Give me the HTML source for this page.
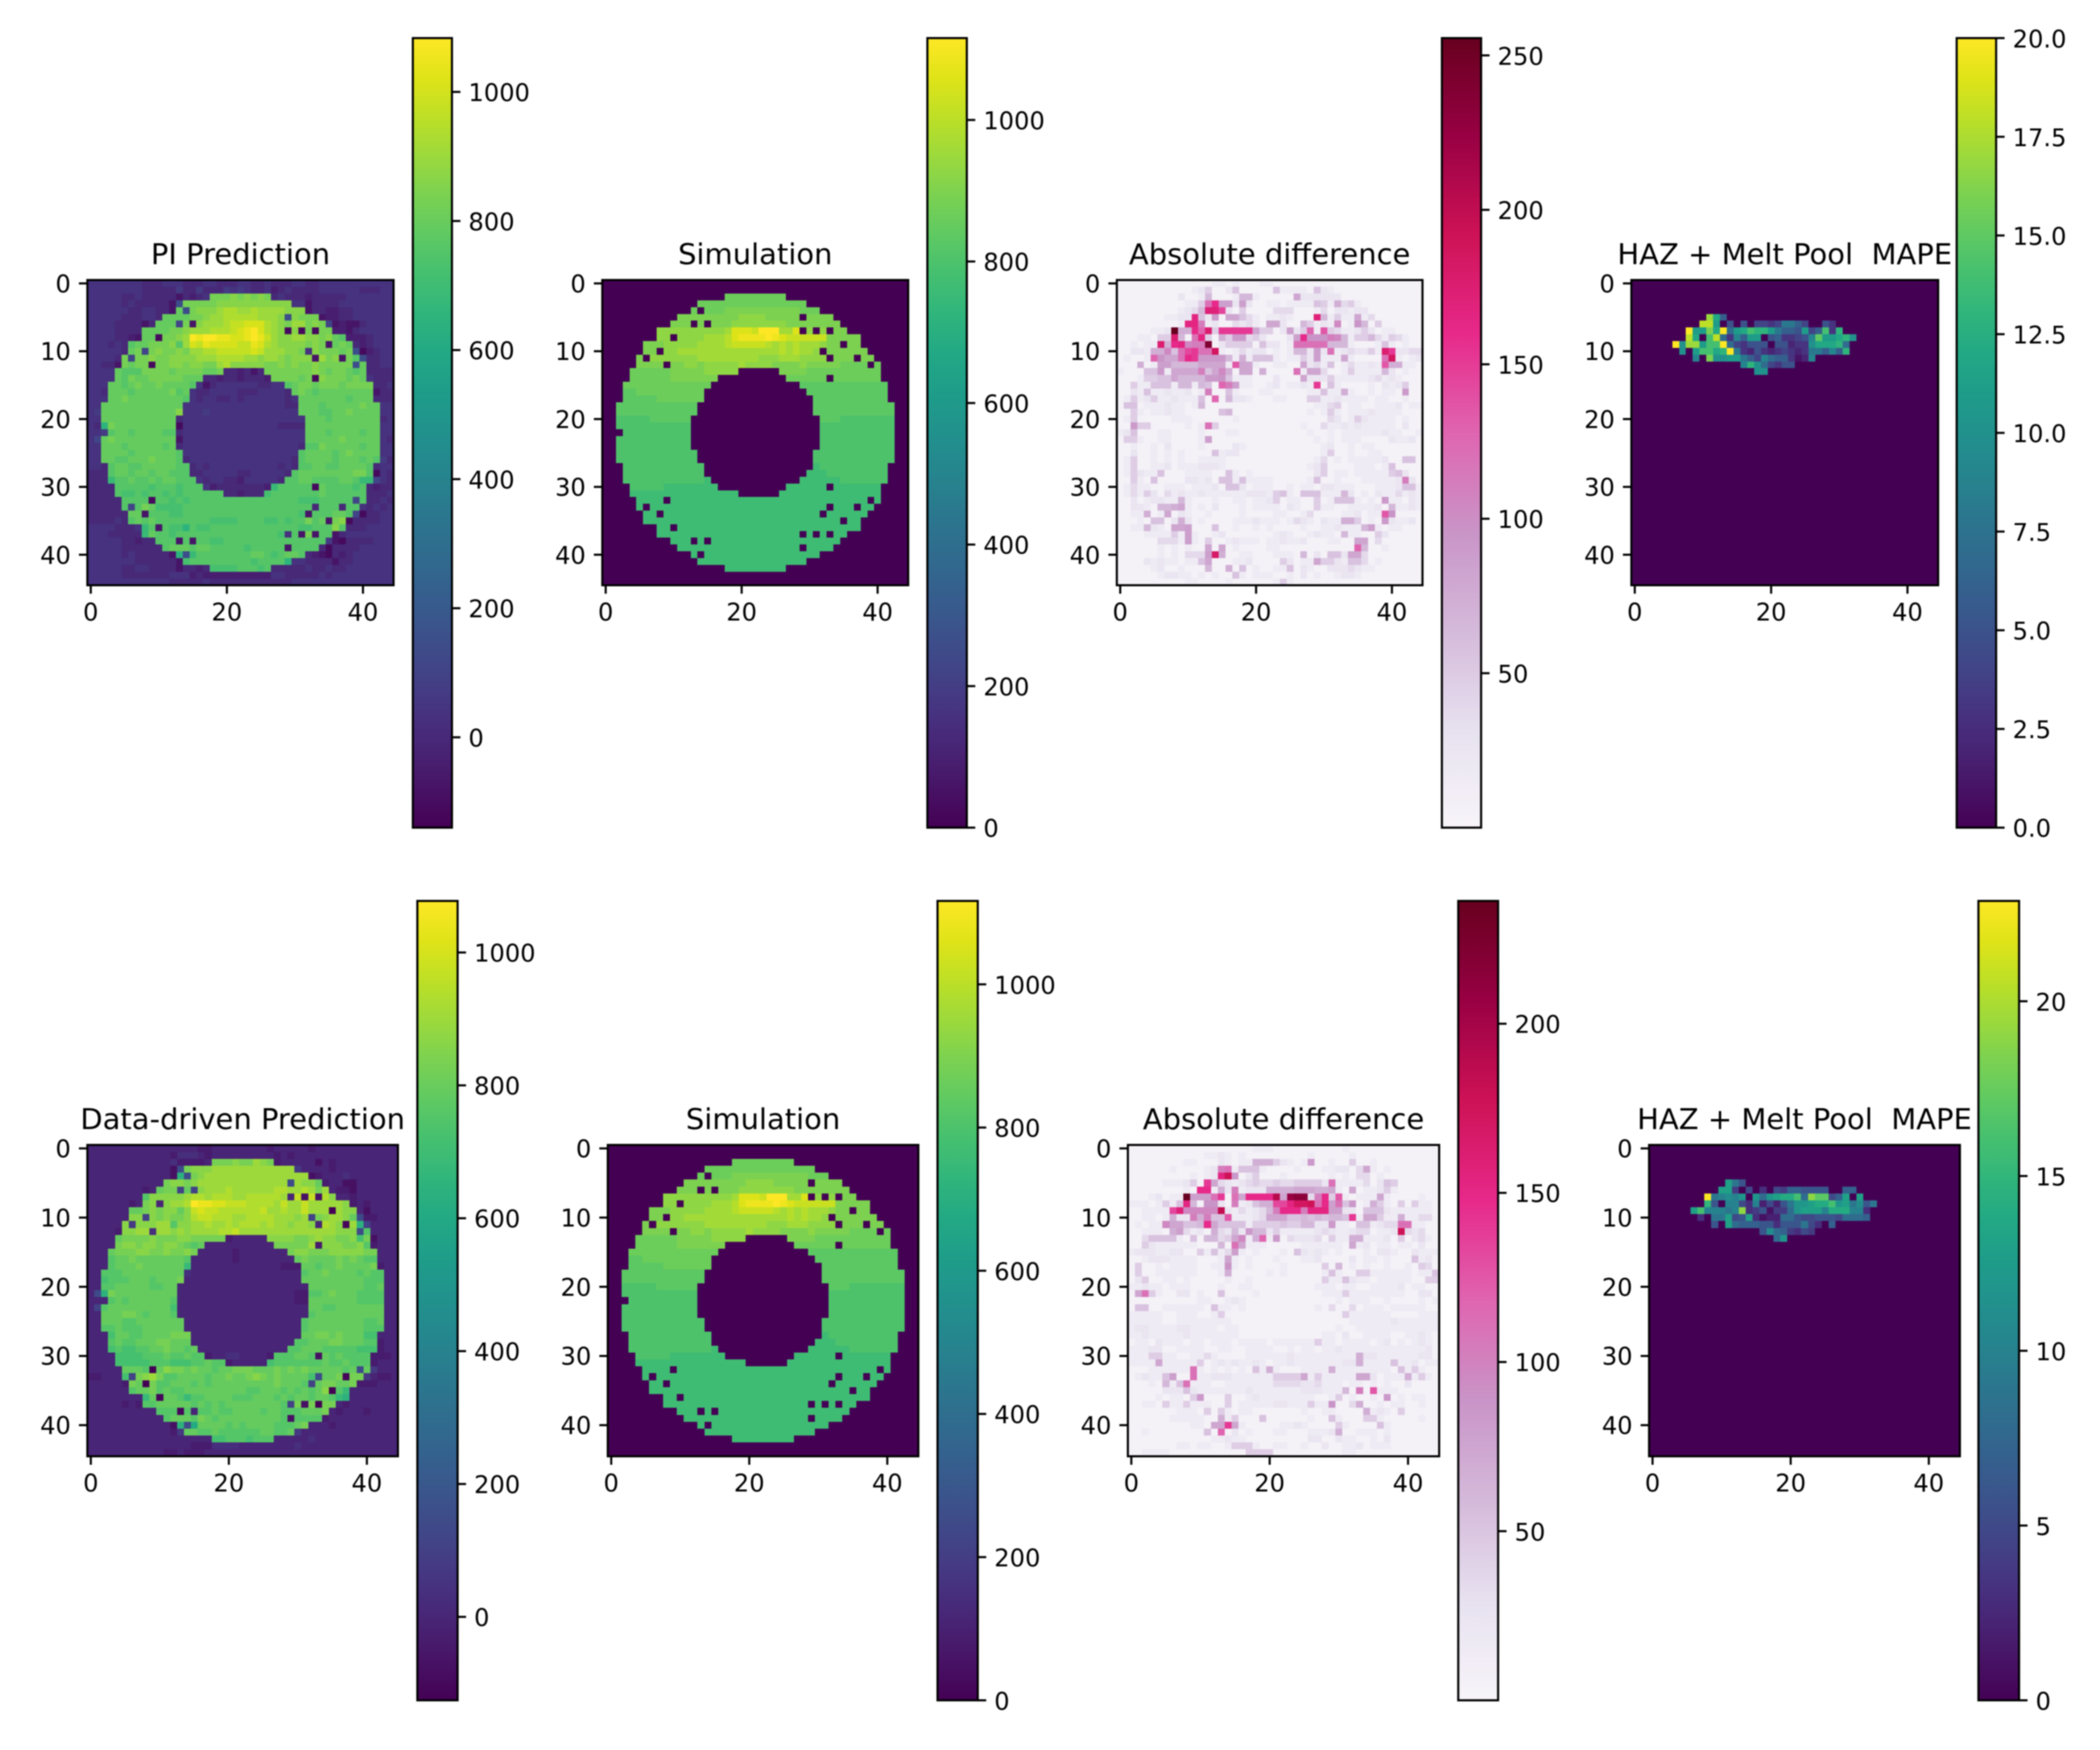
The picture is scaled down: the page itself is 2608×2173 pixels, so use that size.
<!DOCTYPE html>
<html lang="en">
<head>
<meta charset="utf-8">
<title>Temperature field prediction comparison</title>
<style>
html,body{margin:0;padding:0;background:#fff}
#figure{display:block;width:2608px;height:2173px;font-family:"DejaVu Sans","Liberation Sans",sans-serif;filter:blur(0.85px)}
text{fill:#000;white-space:pre}
</style>
</head>
<body>
<svg id="figure" xmlns="http://www.w3.org/2000/svg" width="2608" height="2173" viewBox="0 0 2608 2173" xml:space="preserve"><defs id="gradients"></defs></svg>
<script>
// ---- heatmap values: each character is a base-36 level, spaces only group the columns ----
const simulationRows = [
"00000 00000 00000 00000 00000 00000 00000 00000 00000",
"00000 00000 00000 00000 00000 00000 00000 00000 00000",
"00000 00000 00000 000rr rrrrr rr000 00000 00000 00000",
"00000 00000 0000r rrrrr rrrrr rrrrr 00000 00000 00000",
"00000 00000 000r0 rrrss sssss ssssr rr000 00000 00000",
"00000 00000 0ssss sssss tttts ssss0 ssss0 00000 00000",
"00000 00000 sss0s 0ssst ttttt ttsss sssss 00000 00000",
"00000 000tt ttttt tttux xxwzz zuux0 t0t0s s0000 00000",
"00000 000tt 0tttt uuuvx yyyyz yxwww wwwss sss00 00000",
"00000 0ssst ttttu uuuvw wwwwv uvuvu uutss 0ss00 00000",
"00000 0ss0t tuuuu uuuuu uuuuu uvuvu ut0ss ssss0 00000",
"00000 s0ttt ttttu uuuuu uuutt tuuut ttt0s ss0ss 00000",
"00000 ssss0 sstts ttttt utttt sssst sssss rrrr0 r0000",
"0000r rrrrr sssss ttttt 00000 0ssss rrrrr rrrrr r0000",
"0000r rrrrr sssss ss000 00000 00rrr rrr0r rrrrr r0000",
"000rr rrrrr rrrrr r0000 00000 0000q qqqqq qqqqq qq000",
"000qq rrrrr rrrrr 00000 00000 00000 qqqqq qqqqq qq000",
"000qq qqqrr rrrrr 00000 00000 00000 0qqqq qqqqq qq000",
"00qqq qqqqq qqqq0 00000 00000 00000 0qqqq qqqqq qqq00",
"00qqq qqqqq qqqq0 00000 00000 00000 0qqqq qqqqq qqq00",
"00ppp ppqqq qqq00 00000 00000 00000 00qqq ppppp ppp00",
"00ppp ppppp ppp00 00000 00000 00000 00ppp ppppp ppp00",
"000pp ppppp ppp00 00000 00000 00000 00ppp ppppp ppp00",
"00ppp ppppp ppp00 00000 00000 00000 00ppp ppppp ppp00",
"00ppp ppppp ppp00 00000 00000 00000 00ppp ppppp ppp00",
"00ppp ppppp pppp0 00000 00000 00000 0pppp ppppp ppp00",
"00ppp ppppp pppp0 00000 00000 00000 0pppp ppppp ppp00",
"000pp ppppp ppppp 00000 00000 00000 0oppp ppppp pp000",
"000pp ppppp ppppp 00000 00000 00000 ooopp ppppp pp000",
"000pp ppppp ppppp o0000 00000 0000o ooooo ppppp pp000",
"0000p ppppo ooooo oo000 00000 00ooo ooo0o ooooo o0000",
"0000o ooooo ooooo ooooo 00000 0oooo ooooo ooooo o0000",
"00000 oooo0 ooooo ooooo ooooo ooooo ooooo oooo0 o0000",
"00000 o0ooo ooooo ooooo ooooo ooooo ooo0o oo0oo 00000",
"00000 0oo0o ooooo ooooo ooooo ooooo oo0oo oooo0 00000",
"00000 0oooo ooooo ooooo ooooo ooooo ooooo 0oo00 00000",
"00000 000oo 0oooo ooooo ooooo ooooo ooooo ooo00 00000",
"00000 000oo ooooo ooooo ooooo oooo0 o0o0o o0000 00000",
"00000 00000 ooo0o 0oooo ooooo ooooo ooooo 00000 00000",
"00000 00000 0oooo ooooo ooooo oooo0 oooo0 00000 00000",
"00000 00000 000o0 ooooo ooooo ooooo oo000 00000 00000",
"00000 00000 0000o ooooo ooooo ooooo 00000 00000 00000",
"00000 00000 00000 000oo ooooo oo000 00000 00000 00000",
"00000 00000 00000 00000 00000 00000 00000 00000 00000",
"00000 00000 00000 00000 00000 00000 00000 00000 00000"
];
const piPredictionRows = [
"66666 66655 56665 55665 55665 56555 66556 66666 66666",
"66666 66655 55575 57555 76765 56456 55556 66666 55566",
"66666 55655 55535 456ss ststs ts565 55455 55566 66666",
"66666 56555 5539s sssst ttttt ttttt 66355 55666 66666",
"66666 65566 553r9 stttu vvuuv uuuut tt355 44556 66666",
"66666 55566 5rrrr sstuu vvvvv uuut9 tsss3 44556 66666",
"66665 55535 rrr8s 3tuuu vwwxx xvuts uusts 83433 56666",
"66665 555rr rrsst uuuvv vwxyz xvut2 t2s2s s4435 66666",
"66665 543rr 2sstu zyzzy yxxyz ywutt uutts trq44 45666",
"66656 5qrrs sstqu xwyxx xxwwy xvutt ttsts 3rsr5 45666",
"66666 5rs8s tssts uuvvw wwwwx wuuut ts6ts ssrs9 24566",
"66665 s8sst ssttt tuuuv vvvuu tuuts ttt3u st3sq 95566",
"66553 srss2 sstts ttssu vtttt tssts tssts ssss9 r5566",
"6666r qqqss ssrss ssrrs 55453 5ssss sssts rssrq r5555",
"6666r qsrrs ssssr rr554 55455 54sss srs2t sssrs r6555",
"666rr qrsrr srrrr q6356 66666 5566q rssrs ssrss ss556",
"665rr rqrrr rrsqr 65566 66555 66665 rsrqr rrrrr rr355",
"666rr srrrr rrrrq 65665 56566 66665 6rrrr rrrqr rr555",
"66rrr rrrrr rrrr6 66666 66666 66665 5rrrq rrrrr srr66",
"67rrr rrrrr rrrt6 66766 66666 66666 6rrrq qrrsr rrr66",
"66rrr rrrrr rrr56 66666 66666 66666 66rrr qrrrr rrr56",
"65nsr rrrrr rrr26 66666 66666 66655 55rrr rrrrr rrr66",
"667qr rqrrr rqq56 66666 66666 66666 66rrr qrrrr qrr66",
"68rsr rrrrr rrr36 66666 66666 66666 66rrr rrsrr rrr65",
"66rrr qrrrr rqr56 66666 66666 66666 65qqs rrrrr qrr66",
"66rrr rqrrr rrrq6 66666 66666 66666 6qrrr rqrsr rrr66",
"66rrq qrrrs rrrq5 66666 66666 66666 5qrrr rqrrr qrq75",
"665qr rqqrr rrrqq 56566 66666 66656 5qqrr qqrrr rq566",
"555qr rqrrq rrqqq 55666 66556 66665 qrrrr rrrrs sq265",
"555oq qrqqr qrrqq q6566 55466 6665q qrrqq qqrrq oo865",
"5555q qqqqp qqqpq qq645 55555 54oqq qqq2r qqqqp q5455",
"5555q ppqpq qpqpq qqqqq 55455 5pqqq qqqqr qqqqq q5556",
"55555 qqqq2 qqpqp qqqqq qqqqq qqqqq qpppq qqqq8 q5565",
"55555 q8qsr ppppq qqqqq qqqqq qqqqq qqq5q qq5qq 65656",
"55555 5rr3q qqppq qqqqq qqqqq qqqqq qp3qq qrrq8 25566",
"55556 5qrqr qqqqq qqqpp ppqqq qppqp qqsqr 3st25 55566",
"66665 556oq 3qppn qppqq qqqqq qqqqq qppqq qtq55 56666",
"66655 555or qqpqq qqqqq qqqqq qqqp6 q3s3q q3566 66666",
"66666 55455 qqq3q 3qqpp qqqqq qqqqq qqqqq 73255 55666",
"66666 55555 5qrrr qrrqq qqqpq qqqq3 qqqq5 25555 66666",
"66666 56555 553n9 oqqqq qqqqr rqpqr rq543 25456 66666",
"66666 66555 5553p qqqqq qqqqp qqqqn 66555 53556 66666",
"66666 55665 55535 545pp ppqqq pq555 55655 65566 66666",
"66666 55555 55666 45444 44444 44665 55556 56666 66666",
"66666 66666 66555 55655 55555 55555 66666 66666 66666"
];
const dataDrivenRows = [
"55555 55555 55555 54455 55555 54555 55455 55555 55555",
"55555 55555 55466 65455 55555 55454 55555 55555 55555",
"55555 55555 55644 445ss stssu ts455 55535 45555 55555",
"55555 55555 5539s tttuu uuuuu uuuuu 75555 45555 55555",
"55555 55555 553n9 stuuu uuuuu uuuuu uu345 55655 55555",
"55555 55555 5stts tuuuu uuuuu uuuu9 uttr4 55335 55555",
"55555 55545 rss8r 8tuuu vuuuu uuvvu uvusu 54435 55555",
"55555 555qt ttttu vvuvv vuuvv vvvu5 w3w3v t5545 55555",
"55555 545st 5tuuv zyyxx wwwvv vvuwu uwuuu uut45 45555",
"55555 5rrst sttrt wxwwv vvvvv wuuvu uwuuu 1utt5 35555",
"55555 5tt8t stsst vwwvv vuuvv vvuuu tu8st uutr9 44555",
"55555 t7ttt uuqtt uuvuu vuvvv uvuut uut5v ut2un 85555",
"55554 ttuu6 uutut uuuuv vwuuu uuuuu uuuuu uttt9 q5555",
"5555r sssst ssstt sssss 45555 5tttt sstut tsstp s3555",
"5555s ttstt sttsr qr555 55555 55sss ssu4t ttsst q4555",
"555rs sstts stsst s5555 54555 5555s ttsss ttttt ss555",
"555qr rsrrr rrrrq 55555 54555 55555 rsrrr rsrsr qq555",
"555qr rrsrr rrrro 55555 55555 55544 4rrqr rsrrr rs455",
"55qqq rrrrr rrrr6 55555 55555 55555 5qrrs rrrrq rqq55",
"55pqq qrrrq rrrs5 55555 55555 55555 5rrrr rrrrr qqq55",
"55qqr rrrrq qrr55 55555 55555 55555 55rrr rrrrr qqr55",
"59nsr rrrrr rrr55 55555 55555 55555 44qqr srrrq qqq55",
"555qr qrrrr rrq55 55555 55555 55555 44rrr rrrrq qqq55",
"58qrr rrrrr rrp55 55555 55555 55555 55rrq qrrrr rrr55",
"55rrr ssrqr rrq55 55555 55555 55555 55qrr rrrrr rrr55",
"55rrr qqrrr rrrr5 55555 55555 55555 5qrrr rrrrr qqr55",
"55qqr qqqrr rrrr5 55555 55555 55555 5qrrr rrrrr qqq55",
"555pr rqqrr rrsss 55555 55555 55555 5rrss rsrrr pp555",
"555qr qqrrr ssrrr 55555 55555 55555 qqrrr ssrrr qq455",
"555pq ppqqr rsrrq r5555 55555 5555q qrrrq qqqqp pp455",
"5555p pppqq qrqqr qq455 66555 54qqq rrq3r qrqqq q4445",
"5555p ppppq qqppp qqrqq 45555 5pqqq qqqqr qqrqq q4555",
"55555 rrrq1 rtssr srrqr rsssr rrsrs rsrrr rrqr9 r7555",
"44555 p8stu sqqrr rrqrr srrst srsrr rrp9r rs2ss 75445",
"55555 4sr1s qqrrr qrqrr rrrrr rrsrr rq8rs srrs4 44555",
"55555 5qrrs qrqqr rrrrr rrrqq rrrqr qrqrt 1qo55 55555",
"55555 555or 2rrqo qqrrr rqqqr rrqrq rrqrr qon55 55555",
"55555 454qq rrrrr qrqrq rrrrr rrrq8 s3s1s s5455 55555",
"55555 55555 qqq2q 5qqrq qrrrr qrrqq qrrrs 54555 45555",
"55555 55555 5qrrr qsrqr rrrrr rrrq3 qqqq4 55555 55555",
"55555 55555 553n9 mrrrr qrqrr rrqqq rs555 45555 55555",
"55555 55555 5547r rqqrq qqqqq rrqqr 75555 55555 55555",
"55555 55555 55555 555pp qqqpq qq555 55655 55555 55555",
"55555 55555 55555 44466 66555 55555 65555 55555 55555",
"55555 55555 54454 44555 55555 55555 55555 55555 55555"
];
const piDifferenceRows = [
"11111 11111 11112 21211 12211 11111 11111 11111 11111",
"11111 11111 12351 13611 11162 22216 32111 11111 11111",
"11111 11113 11271 11277 21111 19333 33311 11111 11111",
"11111 11111 225fk aa3a3 11221 22226 52845 21111 11111",
"11111 11112 347mm i3151 11144 41112 41332 33111 11111",
"11111 11223 3l63b 19964 21223 2111m 72522 92411 11111",
"11111 11112 lle23 11434 21993 11752 32d12 c7151 11111",
"11111 223z8 8kgn5 jjjjj 95513 a35g2 h5422 35312 21111",
"11122 155n7 1fl51 85bb4 53111 3akcc ced72 55742 54211",
"11212 2n8kl deex1 35555 16331 2ffff f7772 11126 21211",
"11332 88d6f ijffp 21242 33121 2773a 3f234 3352n j3344",
"12112 gc99f kjbbb b7282 66621 2253a 22292 1111f p2123",
"11181 2aa77 77999 92h99 21122 11934 26124 2232h 88221",
"21116 6b299 99e69 d8199 18111 1f299 41125 22227 31211",
"11125 56697 777bb c6222 11131 11933 35222 22342 32111",
"11522 66627 72761 gea22 11231 2232j 16211 11213 23511",
"11326 22322 312e1 16211 12211 11122 62282 11212 21b11",
"12523 52232 2261g 17332 11122 11155 22322 22122 11211",
"16612 22322 12711 11111 11111 11112 24512 21122 23122",
"11521 22322 11111 67111 11111 11121 25212 22322 22111",
"12511 11122 21111 11211 11111 11111 14312 53222 21211",
"11b55 11111 212f5 11111 11111 11211 42232 32222 21311",
"23611 12211 11211 12211 11111 11121 12122 22223 22112",
"15521 12211 112a1 11111 11111 11112 12122 21111 32231",
"11211 21311 11211 11321 11111 11111 23112 12211 11111",
"11311 21212 11116 23311 11111 11111 25112 11221 11111",
"12511 21212 11222 21111 11111 11112 41212 22223 11661",
"12511 22312 22333 21111 11111 11123 51111 22212 61111",
"12532 26111 22221 16212 11111 11113 51221 22222 56311",
"11521 61111 33231 66262 22211 11126 11211 12222 23e31",
"12422 11222 12223 16631 22211 21221 33222 11122 23662",
"12425 31423 22322 22223 33256 21666 22273 12132 24232",
"11312 33227 21112 11221 22351 22115 12666 2121b 22132",
"11332 17789 21213 11121 22221 32115 22112 22231 72232",
"11228 12913 21121 11121 11122 11241 11122 3122h c1111",
"11121 66138 31211 11222 32221 24321 32288 5121b 32231",
"11227 32199 a1116 11211 21211 11211 22322 27a21 22111",
"11112 22252 a2112 31111 11123 21123 22172 21153 11111",
"11111 14442 a2151 12322 21223 22311 12211 99141 11111",
"11111 12121 21191 91211 11221 11111 11111 g7112 11111",
"11111 12121 444ao 81122 11122 21713 16639 94111 11111",
"11113 23221 22691 11223 11115 31229 55326 64121 11111",
"11111 23112 11171 18161 21122 61321 13334 32211 11111",
"11111 12332 21212 11621 22211 21312 11233 21111 11111",
"11111 11111 22111 12111 11125 21111 11111 11111 11111"
];
const dataDrivenDifferenceRows = [
"11111 11111 11111 11122 21111 11111 12111 11111 11111",
"11111 11111 12232 12111 11111 12111 11211 11111 11111",
"11111 11122 11132 12288 85321 2b112 11511 21111 11111",
"11111 12111 123ef 26662 11112 11122 33149 21211 11111",
"11111 11112 123lq b1351 11211 11112 12144 12111 11111",
"11111 22235 1j943 23454 45445 5553f 22224 13651 11111",
"11111 11121 kk283 e2333 88889 99889 21912 23521 11111",
"11123 122za aafj1 f9kkk ks9vw w4ek5 h2122 29211 11211",
"22212 526l7 1cc31 e2368 8iilp pqfka f6b12 85215 15221",
"11222 2imdd dddr3 24234 7ekkk ellla a3316 66322 22221",
"11221 2833e 8e66h 22234 99966 76767 76j29 95228 22441",
"12122 d9966 7k966 66255 55655 7733b 22166 2344f f2211",
"11222 18a42 31843 73b77 35222 22343 22344 1223q 43411",
"11466 66216 17745 9d28g 2b143 33415 22882 22315 13421",
"11532 22222 11171 f9222 11111 22222 21923 12212 21311",
"23332 23311 52624 a2121 11216 32321 21112 13321 13222",
"11233 32222 11129 21211 12111 22311 11312 21211 16231",
"15112 12222 1122c 21211 11211 11151 71212 11211 21541",
"15112 22222 11128 11111 21211 11126 21155 22222 21226",
"13511 22121 11112 11211 11111 11152 26322 12222 21155",
"22322 12221 11121 12211 11111 11222 12211 22223 12211",
"19f52 11331 21161 11121 11111 11122 25222 22222 11331",
"11111 11111 22112 32111 11111 11111 21222 11211 11212",
"16611 22222 21622 12111 11111 11214 11412 22122 22211",
"22222 11222 11251 11111 11111 11111 15222 22211 11222",
"22222 11222 22222 11111 11111 11111 11222 22232 22222",
"23322 22332 22212 21111 11111 11111 21122 22222 22222",
"22322 22232 22222 21111 11111 11122 13112 22211 22321",
"12213 22212 21222 12222 12222 22522 12222 12312 12321",
"22233 11222 21122 11222 21121 22122 32222 22222 22231",
"22255 22112 24211 11222 22232 22222 22283 32222 22331",
"22229 22222 51232 32232 12232 22222 23382 22262 23122",
"11122 2222f 21212 12162 82111 22228 22222 22216 25211",
"12322 6a11f 22333 22222 25555 92522 22299 31222 82521",
"11121 726f2 22112 22222 24444 33422 21221 21211 31111",
"11111 33363 22222 22322 22222 33322 271e1 h2221 11111",
"11112 12215 b1115 11232 22222 22112 51211 21b12 12211",
"11221 52252 22115 12222 23322 2522c 11481 12122 11211",
"11111 11222 15152 12211 11111 21122 11118 23215 11111",
"11111 12222 21182 51116 11111 12116 21115 52111 11211",
"11111 11112 2199j 92111 11223 21111 52111 16211 11111",
"11211 11111 161g1 31211 12211 12223 81122 21211 11111",
"11111 11111 11223 22111 11111 13311 32211 21311 11111",
"11111 11221 22112 55521 12211 21131 12231 22211 11111",
"11222 21111 11111 11555 51111 11111 12211 11111 11111"
];
// level calibration for the difference panels: level -> fraction of the colour range
const diffLevelKeys = [0,1,2,3,4.5,6.5,9.5,12,16,20,26,31,35];
const diffLevelFractions = [0,0.02,0.06,0.1,0.17,0.24,0.33,0.375,0.5,0.625,0.75,0.875,1];
// MAPE panels: values for rows 5..13, each entry is [first column, values]
const mapeFirstRow = 5;
const piMapeRows = [
[11,[17,12,6]],
[10,[18,18,11,0,5,0,5,0,4,4,3,4,8,8,6,4,0,0,5,3]],
[8,[20,11,11,16,12,20,7,11,12,14,13,13,11,8,6,6,5,11,4,6,14,3,13]],
[8,[18,12,0,14,18,7,3,9,6,11,11,0,5,6,3,3,4,5,9,15,11,11,12,13,10]],
[6,[20,10,17,17,11,14,14,20,7,4,3,5,5,5,0,5,5,2,3,3,10,12,12,12,13,7]],
[7,[10,0,11,14,14,12,13,20,8,3,2,5,3,2,3,4,3,2,3,8,8,6,9,6,13]],
[9,[9,0,16,10,10,11,11,8,6,4,9,7,6,6,3,1,2,9]],
[16,[9,13,10,7,4,3,5,5]],
[18,[10,10]]
];
const dataDrivenMapeRows = [
[11,[13,9,6]],
[10,[13,13,4,0,5,0,3,0,5,4,7,7,6,6,6,6,0,0,7,7]],
[8,[22.8,9,10,11,10,12,0,12,8,12,13,14,14,16,8,19,17,17,5,7,13,0,13]],
[8,[15,6,0,10,10,5,3,10,2,5,2,6,9,12,12,13,14,14,16,12,13,9,11,6,9]],
[6,[13,16,10,10,10,9,10,19,3,4,6,1,4,4,8,12,13,13,13,10,14,14,14,10,10,3]],
[7,[3,0,9,9,13,5,6,13,3,1,2,2,8,8,6,5,5,6,6,6,5,8,8,8,7]],
[9,[6,0,13,8,7,7,7,6,6,3,6,6,6,9,5,3,0,7]],
[16,[6,11,8,7,4,3,5,4]],
[18,[8,12]]
];
// ---- axis ticks ----
const yTickValues = [0,10,20,30,40];
const xTickValues = [0,20,40];
const piBarTicks = [0,200,400,600,800,1000];
const simBarTicks = [0,200,400,600,800,1000];
const piDiffBarTicks = [50,100,150,200,250];
const piMapeBarTicks = ["0.0","2.5","5.0","7.5","10.0","12.5","15.0","17.5","20.0"];
const ddBarTicks = [0,200,400,600,800,1000];
const ddDiffBarTicks = [50,100,150,200];
const ddMapeBarTicks = [0,5,10,15,20];
const gridSize = 45;
// ---- colormaps ----
const viridis = ["#440154","#471365","#482475","#463480","#414487","#3b528b","#355f8d","#2f6c8e","#2a788e","#25858e","#21918c","#1e9c89","#22a884","#2fb47c","#44bf70","#5ec962","#7ad151","#9bd93c","#bddf26","#dfe318","#fde725"];
const puRd = ["#f7f4f9","#e7e1ef","#d4b9da","#c994c7","#df65b0","#e7298a","#ce1256","#980043","#67001f"];
const NS = "http://www.w3.org/2000/svg";
const svg = document.getElementById("figure");
const defs = document.getElementById("gradients");
function hexToRgb(h){return [parseInt(h.slice(1,3),16),parseInt(h.slice(3,5),16),parseInt(h.slice(5,7),16)];}
function colorAt(map,t){
  t=Math.max(0,Math.min(1,t));
  const p=t*(map.length-1),i=Math.min(map.length-2,Math.floor(p)),f=p-i;
  const a=hexToRgb(map[i]),b=hexToRgb(map[i+1]);
  return "rgb("+[0,1,2].map(k=>Math.round(a[k]+(b[k]-a[k])*f)).join(",")+")";
}
function make(tag,attrs,parent){
  const el=document.createElementNS(NS,tag);
  for(const k in attrs){el.setAttribute(k,attrs[k]);}
  parent.appendChild(el);
  return el;
}
function decodeRows(rows,step,offset){
  return rows.map(function(r){
    const chars=r.replace(/ /g,"");
    const out=[];
    for(let i=0;i<gridSize;i++){
      const n=parseInt(chars[i]||"0",36);
      out.push(n*step+offset);
    }
    return out;
  });
}
function levelToFraction(n){
  for(let i=0;i<diffLevelKeys.length-1;i++){
    if(n<=diffLevelKeys[i+1]){
      const f=(n-diffLevelKeys[i])/(diffLevelKeys[i+1]-diffLevelKeys[i]);
      return diffLevelFractions[i]+f*(diffLevelFractions[i+1]-diffLevelFractions[i]);
    }
  }
  return 1;
}
function decodeDifference(rows,vmax){
  return rows.map(function(r){
    const chars=r.replace(/ /g,"");
    const out=[];
    for(let i=0;i<gridSize;i++){
      out.push(levelToFraction(parseInt(chars[i]||"0",36))*vmax);
    }
    return out;
  });
}
function decodeSparse(rows){
  const grid=[];
  for(let r=0;r<gridSize;r++){grid.push(new Array(gridSize).fill(0));}
  rows.forEach(function(row,i){
    row[1].forEach(function(v,j){grid[mapeFirstRow+i][row[0]+j]=v;});
  });
  return grid;
}
let gradientCount=0;
function drawPanel(p){
  const g=make("g",{},svg);
  
  
  const cw=(p.x1-p.x0)/gridSize,ch=(p.y1-p.y0)/gridSize;
  const xScale=function(c){return p.x0+(c+0.5)*cw;};
  const yScale=function(r){return p.y0+(r+0.5)*ch;};
  const colorScale=function(v){return colorAt(p.cmap,(v-p.vmin)/(p.vmax-p.vmin));};
  const cells=make("g",{"shape-rendering":"crispEdges"},g);
  
  
  p.values.forEach(function(row,r){
    row.forEach(function(v,c){
      const cell=make("rect",{x:(xScale(c)-cw/2).toFixed(2),y:(yScale(r)-ch/2).toFixed(2),width:(cw+0.4).toFixed(2),height:(ch+0.4).toFixed(2),fill:colorScale(v)},cells);
      
      
    });
  });
  const frame=make("rect",{x:p.x0,y:p.y0,width:p.x1-p.x0,height:p.y1-p.y0,fill:"none",stroke:"#000","stroke-width":2.6},g);
  
  
  xTickValues.forEach(function(v){
    const tick=make("line",{x1:xScale(v),x2:xScale(v),y1:p.y1,y2:p.y1+10.5,stroke:"#000","stroke-width":2.6},g);
    
    
    const label=make("text",{x:xScale(v),y:p.y1+43.6,"text-anchor":"middle","font-size":30},g);
    label.textContent=String(v);
    
    
  });
  yTickValues.forEach(function(v){
    const tick=make("line",{x1:p.x0-10.5,x2:p.x0,y1:yScale(v),y2:yScale(v),stroke:"#000","stroke-width":2.6},g);
    
    
    const label=make("text",{x:p.x0-20.5,y:yScale(v)+11,"text-anchor":"end","font-size":30},g);
    label.textContent=String(v);
    
    
  });
  const title=make("text",{x:(p.x0+p.x1)/2,y:p.y0-19.5,"text-anchor":"middle","font-size":36},g);
  title.textContent=p.title;
  
  
  // colorbar
  const id="cbar"+(gradientCount++);
  const grad=make("linearGradient",{id:id,x1:0,y1:1,x2:0,y2:0},defs);
  for(let i=0;i<=40;i++){make("stop",{offset:i/40,"stop-color":colorAt(p.cmap,i/40)},grad);}
  const bar=make("rect",{x:p.bar[0],y:p.bar[2],width:p.bar[1]-p.bar[0],height:p.bar[3]-p.bar[2],fill:"url(#"+id+")",stroke:"#000","stroke-width":2.6},g);
  
  
  const barScale=function(v){return p.bar[3]-(v-p.vmin)/(p.vmax-p.vmin)*(p.bar[3]-p.bar[2]);};
  p.barTicks.forEach(function(t){
    const v=parseFloat(t);
    const tick=make("line",{x1:p.bar[1],x2:p.bar[1]+10.5,y1:barScale(v),y2:barScale(v),stroke:"#000","stroke-width":2.6},g);
    
    
    const label=make("text",{x:p.bar[1]+20.5,y:barScale(v)+11.5,"font-size":30},g);
    label.textContent=String(t);
    
    
  });
}
drawPanel({name:"pi-prediction",title:"PI Prediction",x0:108.5,x1:488.8,y0:347.7,y1:726.7,bar:[512.7,561.3,47.3,1027.7],vmin:-140,vmax:1083.4,cmap:viridis,values:decodeRows(piPredictionRows,36,-180),barTicks:piBarTicks});
drawPanel({name:"pi-simulation",title:"Simulation",x0:748,x1:1127.9,y0:347.7,y1:726.7,bar:[1151.7,1200.7,47.3,1027.7],vmin:0,vmax:1115.7,cmap:viridis,values:decodeRows(simulationRows,32,0),barTicks:simBarTicks});
drawPanel({name:"pi-absolute-difference",title:"Absolute difference",x0:1387,x1:1766.6,y0:347.7,y1:726.7,bar:[1790.7,1839.4,47.3,1027.7],vmin:0,vmax:255.6,cmap:puRd,values:decodeDifference(piDifferenceRows,255.6),barTicks:piDiffBarTicks});
drawPanel({name:"pi-mape",title:"HAZ + Melt Pool  MAPE",x0:2026,x1:2407,y0:347.7,y1:726.7,bar:[2430,2479,47.3,1027.7],vmin:0,vmax:20,cmap:viridis,values:decodeSparse(piMapeRows),barTicks:piMapeBarTicks});
drawPanel({name:"data-driven-prediction",title:"Data-driven Prediction",x0:108.5,x1:494.2,y0:1421.7,y1:1808.3,bar:[518.3,568.3,1118.7,2111.3],vmin:-125.6,vmax:1077.6,cmap:viridis,values:decodeRows(dataDrivenRows,36,-180),barTicks:ddBarTicks});
drawPanel({name:"dd-simulation",title:"Simulation",x0:754.8,x1:1140.5,y0:1421.7,y1:1808.3,bar:[1164.3,1214.3,1118.7,2111.3],vmin:0,vmax:1116.5,cmap:viridis,values:decodeRows(simulationRows,32,0),barTicks:simBarTicks});
drawPanel({name:"dd-absolute-difference",title:"Absolute difference",x0:1400.7,x1:1787.3,y0:1421.7,y1:1808.3,bar:[1811,1860.5,1118.7,2111.3],vmin:0,vmax:236.3,cmap:puRd,values:decodeDifference(dataDrivenDifferenceRows,236.3),barTicks:ddDiffBarTicks});
drawPanel({name:"dd-mape",title:"HAZ + Melt Pool  MAPE",x0:2048,x1:2434,y0:1421.7,y1:1808.3,bar:[2457,2507.5,1118.7,2111.3],vmin:0,vmax:22.87,cmap:viridis,values:decodeSparse(dataDrivenMapeRows),barTicks:ddMapeBarTicks});
</script>
</body>
</html>
